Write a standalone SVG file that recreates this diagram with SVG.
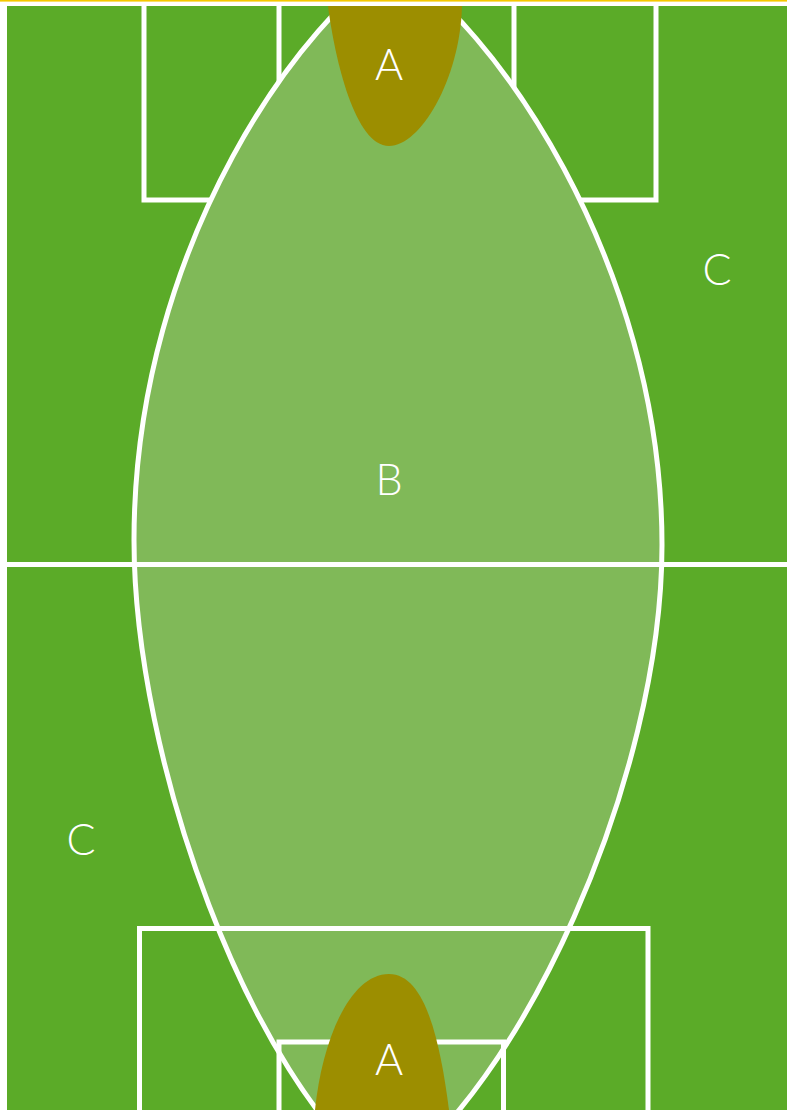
<svg xmlns="http://www.w3.org/2000/svg" width="787" height="1110" viewBox="0 0 787 1110">
  <style>
    .line { stroke: #ffffff; stroke-width: 5; fill: none; }
    .zoneB { fill: #80B958; stroke: #ffffff; stroke-width: 5; }
    .zoneA { fill: #9C8E00; stroke: none; }
    .lbl { fill: #ffffff; font-family: "Lato", "Liberation Sans", sans-serif; font-weight: 300; font-size: 43px; text-anchor: middle; }
  </style>
  <defs>
    <clipPath id="fieldClip">
      <rect x="7" y="6" width="780" height="1104"/>
    </clipPath>
  </defs>
  <rect x="0" y="0" width="787" height="1110" fill="#ffffff"/>
  <rect x="0" y="0" width="787" height="1.6" fill="#F5C800"/>
  <g id="field">
    <rect x="7" y="6" width="780" height="1104" fill="#5BAB28"/>
  </g>
  <g clip-path="url(#fieldClip)">
    <g id="connectors">
      <g id="top-lines">
        <polyline class="line" points="144,6 144,200 656,200 656,6"/>
        <polyline class="line" points="279,6 279,120"/>
        <polyline class="line" points="514,6 514,120"/>
      </g>
    </g>
    <g id="zone-B">
      <path class="zoneB" d="M394,-35 C310,10 134,240 134,540 C134,760 250,1080 385,1180 C520,1090 662,780 662,545 C662,260 490,20 394,-35 Z"/>
    </g>
    <g id="zone-A-top">
      <path class="zoneA" d="M328,6 C335,60 355,146 389,146 C420,146 460,80 462,6 Z"/>
    </g>
    <g id="halfway">
      <line class="line" x1="7" y1="564.5" x2="787" y2="564.5"/>
    </g>
    <g id="bottom-lines">
      <polyline class="line" points="139.5,1110 139.5,928.5 648,928.5 648,1110"/>
      <polyline class="line" points="279,1110 279,1042 503.5,1042 503.5,1110"/>
    </g>
    <g id="zone-A-bottom">
      <path class="zoneA" d="M315,1110 C322,1040 350,974 389,974 C425,974 440,1040 449,1110 Z"/>
    </g>
  </g>
  <g id="labels">
    <text class="lbl" x="389" y="80">A</text>
    <text class="lbl" x="389" y="495">B</text>
    <text class="lbl" x="717" y="285">C</text>
    <text class="lbl" x="81" y="855">C</text>
    <text class="lbl" x="389" y="1075">A</text>
  </g>
</svg>
